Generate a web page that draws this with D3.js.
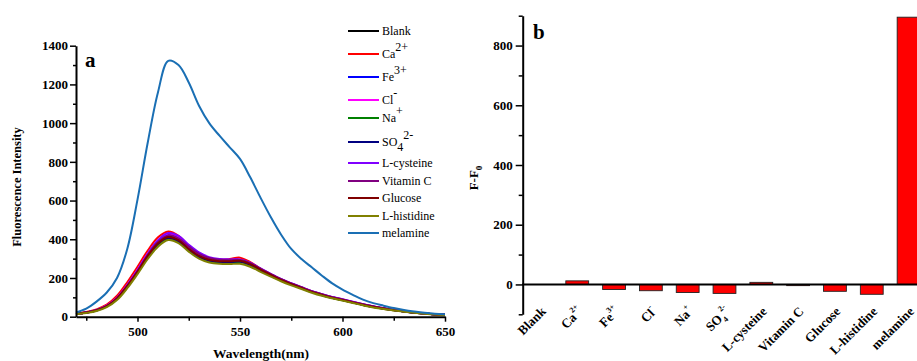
<!DOCTYPE html>
<html>
<head>
<meta charset="utf-8">
<script src="https://cdn.jsdelivr.net/npm/d3@7"></script>
<style>
  html, body { margin: 0; padding: 0; background: #fff; }
  svg { display: block; }
  svg text { font-family: "Liberation Serif", "Times New Roman", "DejaVu Serif", serif; }
</style>
</head>
<body>
<svg id="chart" width="917" height="361"></svg>
<script>
var FONT = "'Liberation Serif', 'Times New Roman', 'DejaVu Serif', serif";

// ---- data (panel a: spectra, every 5 nm from 470 to 650) ----
var wavelengths = d3.range(470, 651, 5);
var seriesNames = ["Blank", "Ca2+", "Fe3+", "Cl-", "Na+", "SO42-", "L-cysteine", "Vitamin C", "Glucose", "L-histidine", "melamine"];
var seriesColors = ["#000000", "#ff0000", "#0000ff", "#ff00ff", "#008000", "#000080", "#8000ff", "#800080", "#800000", "#808000", "#1a6fb4"];

var blank = [15, 22, 33, 55, 95, 160, 235, 318, 385, 418, 400, 355, 318, 298, 290, 290, 292, 275, 245, 218, 192, 170, 150, 130, 114, 100, 88, 75, 63, 52, 43, 35, 28, 22, 17, 13, 11];
var calcium = [16, 24, 38, 62, 108, 178, 258, 342, 410, 440, 418, 365, 322, 302, 295, 298, 305, 282, 248, 218, 190, 168, 148, 128, 112, 98, 86, 73, 61, 50, 41, 33, 27, 21, 16, 12, 10];
var iron = [15, 22, 34, 56, 97, 163, 240, 322, 390, 425, 405, 358, 320, 298, 288, 287, 288, 272, 243, 216, 190, 168, 149, 129, 113, 99, 87, 74, 62, 51, 42, 34, 27, 21, 16, 12, 10];
var chloride = [15, 22, 34, 57, 98, 165, 243, 326, 394, 430, 410, 362, 324, 302, 294, 293, 294, 276, 246, 219, 193, 171, 151, 131, 115, 101, 89, 76, 64, 53, 44, 36, 29, 23, 17, 13, 11];
var sodium = [14, 21, 32, 53, 92, 155, 228, 308, 372, 402, 385, 342, 306, 287, 280, 280, 282, 266, 238, 212, 187, 166, 147, 127, 111, 97, 85, 73, 61, 50, 41, 33, 27, 21, 16, 12, 10];
var sulfate = [14, 21, 32, 54, 93, 157, 231, 312, 377, 408, 390, 346, 310, 290, 283, 283, 285, 269, 241, 214, 189, 168, 148, 128, 112, 98, 86, 74, 62, 51, 42, 34, 27, 21, 16, 12, 10];
var cysteine = [15, 22, 34, 56, 96, 162, 240, 325, 395, 432, 418, 372, 332, 308, 298, 296, 296, 279, 249, 221, 195, 173, 152, 132, 116, 102, 90, 77, 65, 54, 44, 36, 29, 23, 17, 13, 11];
var vitaminC = [15, 22, 33, 55, 94, 160, 236, 318, 386, 420, 404, 362, 325, 303, 294, 292, 293, 277, 248, 220, 194, 172, 152, 132, 116, 101, 89, 76, 64, 53, 44, 35, 28, 22, 17, 13, 11];
var glucose = [15, 22, 33, 55, 94, 158, 232, 314, 380, 412, 395, 350, 314, 294, 287, 287, 289, 272, 243, 216, 190, 168, 148, 128, 112, 98, 86, 74, 62, 51, 42, 34, 27, 21, 16, 12, 10];
var histidine = [13, 19, 29, 49, 86, 147, 220, 298, 362, 396, 380, 336, 300, 280, 273, 272, 273, 258, 232, 207, 183, 162, 143, 124, 108, 95, 83, 71, 59, 48, 40, 32, 26, 20, 15, 11, 9];
var melamine = [22, 42, 78, 125, 200, 350, 605, 900, 1160, 1322, 1300, 1210, 1090, 1000, 935, 875, 815, 720, 615, 515, 425, 350, 298, 255, 212, 172, 140, 113, 88, 70, 57, 45, 35, 27, 20, 15, 13];
var spectra = [blank, calcium, iron, chloride, sodium, sulfate, cysteine, vitaminC, glucose, histidine, melamine];

var xTicksA = [500, 550, 600, 650];
var xMinorA = [475, 525, 575, 625];
var yTicksA = [0, 200, 400, 600, 800, 1000, 1200, 1400];
var yMinorA = [100, 300, 500, 700, 900, 1100, 1300];

// ---- data (panel b: F-F0) ----
var categories = seriesNames;
var deltaF = [0, 12, -17, -21, -27, -30, 7, -4, -23, -33, 895];
var yTicksB = [0, 200, 400, 600, 800];
var yMinorB = [-100, 100, 300, 500, 700, 900];

// label pieces: [base, subscript, superscript]
var labelParts = {
  "Ca2+": ["Ca", "", "2+"],
  "Fe3+": ["Fe", "", "3+"],
  "Cl-": ["Cl", "", "-"],
  "Na+": ["Na", "", "+"],
  "SO42-": ["SO", "4", "2-"]
};

var svg = d3.select("#chart");
svg.append("rect").attr("width", 917).attr("height", 361).attr("fill", "#fff");

function addLabel(sel, name, supSize, supDy, subDy) {
  var p = labelParts[name];
  if (!p) { sel.text(name); return; }
  sel.append("tspan").text(p[0]);
  var back = 0;
  if (p[1]) {
    sel.append("tspan").attr("font-size", supSize).attr("dy", subDy).text(p[1]);
    back = -subDy;
  }
  if (p[2]) {
    sel.append("tspan").attr("font-size", supSize)
      .attr("dy", supDy + back).text(p[2]);
  }
}

// ================= panel a =================
var xA = d3.scaleLinear().domain([470, 650]).range([76, 445]);
var yA = d3.scaleLinear().domain([0, 1400]).range([316.7, 45.7]);

var gA = svg.append("g");

var line = d3.line()
  .x(function (d, i) { return xA(wavelengths[i]); })
  .y(function (d) { return yA(d); })
  .curve(d3.curveCatmullRom.alpha(0.5));

gA.selectAll("path.spec")
  .data(spectra)
  .enter()
  .append("path")
  .attr("class", "spec")
  .attr("d", line)
  .attr("fill", "none")
  .attr("stroke", function (d, i) { return seriesColors[i]; })
  .attr("stroke-width", 2);

function styleAxis(g, size) {
  g.attr("font-family", FONT);
  g.selectAll(".domain").attr("stroke", "#000").attr("stroke-width", 2);
  g.selectAll(".tick line").attr("stroke", "#000").attr("stroke-width", 1.5);
  g.selectAll(".tick text").attr("font-family", FONT)
    .attr("font-weight", "bold").attr("font-size", size).attr("fill", "#000");
}

var fmt = d3.format("d");

var xAxisA = gA.append("g").attr("transform", "translate(0," + yA(0) + ")")
  .call(d3.axisBottom(xA).tickValues(xTicksA).tickFormat(fmt).tickSize(5).tickSizeOuter(0).tickPadding(5));
styleAxis(xAxisA, "13px");
gA.append("g").attr("transform", "translate(0," + yA(0) + ")")
  .call(d3.axisBottom(xA).tickValues(xMinorA).tickSize(4).tickFormat(""))
  .call(function (g) { g.select(".domain").remove(); styleAxis(g, "13px"); });

var yAxisA = gA.append("g").attr("transform", "translate(" + xA(470) + ",0)")
  .call(d3.axisLeft(yA).tickValues(yTicksA).tickFormat(fmt).tickSize(6).tickSizeOuter(0).tickPadding(2));
styleAxis(yAxisA, "13px");
gA.append("g").attr("transform", "translate(" + xA(470) + ",0)")
  .call(d3.axisLeft(yA).tickValues(yMinorA).tickSize(3).tickFormat(""))
  .call(function (g) { g.select(".domain").remove(); styleAxis(g, "13px"); });

gA.append("text")
  .attr("x", 261).attr("y", 358)
  .attr("text-anchor", "middle")
  .attr("font-family", FONT)
  .attr("font-weight", "bold").attr("font-size", "13.5px")
  .text("Wavelength(nm)");

gA.append("text")
  .attr("transform", "translate(21,187) rotate(-90)")
  .attr("text-anchor", "middle")
  .attr("font-family", FONT)
  .attr("font-weight", "bold").attr("font-size", "12.5px")
  .text("Fluorescence Intensity");

gA.append("text")
  .attr("x", 85).attr("y", 67)
  .attr("font-family", FONT)
  .attr("font-weight", "bold").attr("font-size", "21px")
  .text("a");

// legend
var legendGaps = [0, 23, 23, 23, 18, 24, 21, 18, 17, 18, 17];
var legendY = [];
legendGaps.reduce(function (acc, g) { acc += g; legendY.push(acc); return acc; }, 31);

var leg = gA.append("g");
seriesNames.forEach(function (name, i) {
  var y = legendY[i];
  leg.append("line")
    .attr("x1", 348).attr("x2", 379)
    .attr("y1", y).attr("y2", y)
    .attr("stroke", seriesColors[i]).attr("stroke-width", 2);
  var t = leg.append("text")
    .attr("x", 382).attr("y", y + 4)
    .attr("font-family", FONT)
    .attr("font-size", "12px");
  addLabel(t, name, 12, -7, 5);
});

// ================= panel b =================
var xB = d3.scaleBand().domain(categories).range([522, 927]).paddingInner(0.38).paddingOuter(0.19);
var yB = d3.scaleLinear().domain([-100, 900]).range([314.3, 15.7]);

var gB = svg.append("g");

gB.selectAll("rect.bar")
  .data(deltaF)
  .enter()
  .append("rect")
  .attr("class", "bar")
  .attr("x", function (d, i) { return xB(categories[i]); })
  .attr("width", xB.bandwidth())
  .attr("y", function (d) { return yB(Math.max(d, 0)); })
  .attr("height", function (d) { return Math.abs(yB(d) - yB(0)); })
  .attr("fill", "#ff0000")
  .attr("stroke", "#222")
  .attr("stroke-width", 0.9);

gB.append("line")
  .attr("x1", 522).attr("x2", 917)
  .attr("y1", yB(0)).attr("y2", yB(0))
  .attr("stroke", "#000").attr("stroke-width", 2);

var yAxisB = gB.append("g").attr("transform", "translate(522.7,0)")
  .call(d3.axisLeft(yB).tickValues(yTicksB).tickFormat(fmt).tickSize(7).tickSizeOuter(0).tickPadding(3));
styleAxis(yAxisB, "13px");
gB.append("g").attr("transform", "translate(522.7,0)")
  .call(d3.axisLeft(yB).tickValues(yMinorB).tickSize(4).tickFormat(""))
  .call(function (g) { g.select(".domain").remove(); styleAxis(g, "13px"); });

// category labels, rotated
categories.forEach(function (name) {
  var cx = xB(name) + xB.bandwidth() / 2;
  var t = gB.append("text")
    .attr("transform", "translate(" + (cx + 3) + ",309) rotate(-45)")
    .attr("text-anchor", "end")
    .attr("dy", "0.35em")
    .attr("font-family", FONT)
    .attr("font-weight", "bold").attr("font-size", "13px");
  addLabel(t, name, 8, -7, 4);
});

var fl = gB.append("text")
  .attr("transform", "translate(478,178) rotate(-90)")
  .attr("text-anchor", "middle")
  .attr("font-family", FONT)
  .attr("font-weight", "bold").attr("font-size", "13px");
fl.append("tspan").text("F-F");
fl.append("tspan").attr("font-size", "9px").attr("dy", 4).text("0");

gB.append("text")
  .attr("x", 533).attr("y", 39)
  .attr("font-family", FONT)
  .attr("font-weight", "bold").attr("font-size", "21px")
  .text("b");
</script>
</body>
</html>
